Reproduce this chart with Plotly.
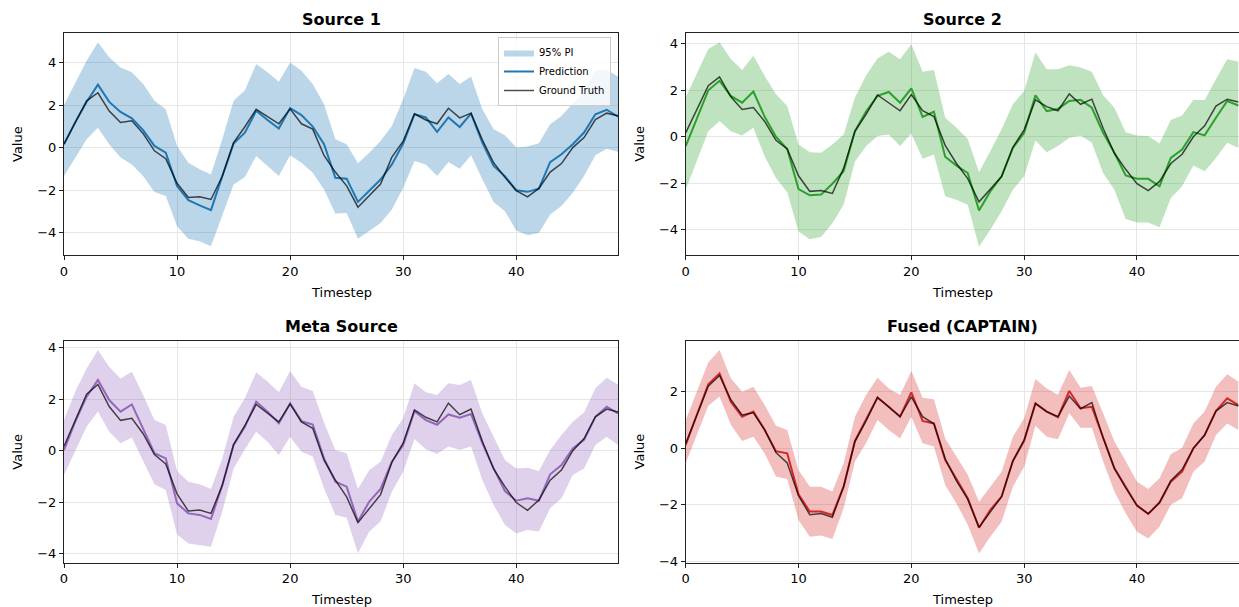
import plotly.graph_objects as go

timesteps = list(range(50))

truth = [0.17, 1.18, 2.2, 2.58, 1.72, 1.18, 1.26, 0.66, -0.15, -0.52,
         -1.68, -2.35, -2.31, -2.44, -1.35, 0.24, 0.98, 1.8, 1.47, 1.12,
         1.82, 1.12, 0.87, -0.37, -1.15, -1.8, -2.8, -2.24, -1.71, -0.45,
         0.3, 1.59, 1.3, 1.12, 1.85, 1.4, 1.62, 0.37, -0.71, -1.4,
         -2.02, -2.32, -1.92, -1.15, -0.75, 0.0, 0.47, 1.32, 1.62, 1.5]

# Source 1
s1_pred = [0.16, 1.2, 2.15, 2.96, 2.15, 1.68, 1.38, 0.82, 0.08, -0.24,
           -1.81, -2.47, -2.72, -2.94, -1.34, 0.19, 0.7, 1.73, 1.3, 0.9,
           1.86, 1.53, 0.99, 0.16, -1.42, -1.46, -2.55, -2.04, -1.5, -0.79,
           0.19, 1.57, 1.42, 0.74, 1.42, 0.97, 1.6, 0.24, -0.86, -1.34,
           -2.01, -2.08, -1.93, -0.68, -0.31, 0.16, 0.71, 1.57, 1.78, 1.46]
s1_upper = [2.0, 3.07, 4.09, 4.95, 4.25, 3.77, 3.54, 2.99, 2.2, 1.81,
            0.08, -0.71, -1.02, -1.26, 0.39, 2.2, 2.7, 3.93, 3.54, 3.1,
            4.0, 3.62, 2.99, 2.04, 0.39, 0.16, -0.74, -0.24, 0.31, 1.02,
            2.28, 3.74, 3.57, 3.03, 3.46, 2.99, 3.35, 1.81, 0.86, 0.58,
            0.0, 0.05, 0.2, 1.1, 1.49, 2.09, 2.59, 3.62, 3.66, 3.35]
s1_lower = [-1.34, -0.47, 0.39, 0.94, 0.16, -0.47, -0.79, -1.34, -2.09, -2.28,
            -3.7, -4.29, -4.4, -4.64, -3.22, -1.73, -1.38, -0.39, -0.86, -1.34,
            -0.36, -0.71, -1.18, -1.97, -3.1, -3.07, -4.29, -3.93, -3.54, -2.91,
            -1.89, -0.63, -0.79, -1.34, -0.68, -0.99, -0.36, -1.49, -2.56, -2.99,
            -3.9, -4.12, -4.01, -3.14, -2.75, -2.12, -1.34, -0.36, -0.05, -0.2]

# Source 2
s2_pred = [-0.4, 0.82, 2.0, 2.41, 1.76, 1.47, 1.95, 0.86, 0.0, -0.52,
           -2.25, -2.52, -2.49, -2.02, -1.48, 0.24, 1.1, 1.76, 1.93, 1.47,
           2.09, 0.86, 1.08, -0.86, -1.24, -1.56, -3.17, -2.35, -1.7, -0.48,
           0.17, 1.79, 1.11, 1.2, 1.54, 1.59, 1.25, 0.17, -0.69, -1.66,
           -1.81, -1.81, -2.13, -0.91, -0.55, 0.2, 0.06, 0.82, 1.54, 1.35]
s2_upper = [1.69, 2.77, 3.78, 4.07, 3.35, 2.88, 3.49, 2.62, 1.83, 1.33,
            -0.33, -0.66, -0.69, -0.33, 0.1, 1.69, 2.65, 3.37, 3.66, 3.34,
            3.99, 2.8, 2.88, 0.82, 0.39, -0.09, -1.53, -0.62, 0.32, 1.4,
            1.97, 3.63, 2.91, 2.91, 3.08, 2.98, 2.8, 1.79, 1.25, 0.2,
            0.06, 0.03, -0.29, 0.72, 0.92, 1.59, 1.59, 2.48, 3.34, 3.23]
s2_lower = [-2.28, -0.98, 0.24, 0.68, 0.24, 0.06, 0.39, -0.84, -1.77, -2.39,
            -4.08, -4.41, -4.32, -3.72, -2.93, -1.06, -0.4, 0.03, 0.1, -0.4,
            0.14, -0.95, -0.76, -2.56, -2.71, -2.93, -4.73, -4.0, -3.21, -2.28,
            -1.7, -0.16, -0.66, -0.4, -0.04, 0.06, -0.26, -1.56, -2.28, -3.54,
            -3.69, -3.69, -3.89, -2.64, -2.13, -1.24, -1.48, -0.91, -0.26, -0.48]

# Meta Source
m_pred = [0.03, 1.13, 2.1, 2.75, 1.97, 1.52, 1.8, 0.87, -0.1, -0.3,
          -2.05, -2.44, -2.5, -2.66, -1.34, 0.22, 0.93, 1.91, 1.52, 1.06,
          1.84, 1.15, 1.02, -0.3, -1.21, -1.4, -2.76, -1.98, -1.49, -0.43,
          0.22, 1.54, 1.19, 1.01, 1.41, 1.28, 1.43, 0.29, -0.69, -1.57,
          -1.95, -1.85, -1.95, -0.92, -0.56, 0.09, 0.42, 1.32, 1.71, 1.45]
m_upper = [1.19, 2.3, 3.2, 3.92, 3.27, 2.81, 3.07, 2.17, 1.19, 1.0,
           -0.79, -1.21, -1.31, -1.49, -0.3, 1.32, 2.05, 3.05, 2.69, 2.27,
           3.1, 2.49, 2.32, 1.1, 0.03, -0.1, -1.49, -0.75, -0.43, 0.61,
           1.26, 2.62, 2.27, 2.17, 2.62, 2.56, 2.75, 1.45, 0.54, -0.36,
           -0.69, -0.66, -0.79, 0.03, 0.61, 1.13, 1.49, 2.43, 2.84, 2.58]
m_lower = [-0.95, -0.04, 0.93, 1.52, 0.74, 0.29, 0.51, -0.4, -1.31, -1.53,
           -3.26, -3.61, -3.67, -3.74, -2.37, -0.69, 0.06, 0.74, 0.35, -0.17,
           0.54, -0.04, -0.23, -1.47, -2.5, -2.61, -3.99, -3.15, -2.76, -1.6,
           -0.82, 0.45, 0.06, -0.13, 0.16, 0.03, 0.16, -1.14, -2.11, -2.89,
           -3.22, -3.09, -3.15, -2.24, -1.85, -0.95, -0.69, 0.22, 0.54, 0.22]

# Fused (CAPTAIN)
f_pred = [0.12, 1.2, 2.27, 2.65, 1.65, 1.12, 1.3, 0.65, -0.1, -0.18,
          -1.63, -2.24, -2.24, -2.36, -1.36, 0.26, 1.02, 1.8, 1.47, 1.12,
          1.98, 0.97, 0.88, -0.41, -1.09, -1.77, -2.81, -2.18, -1.71, -0.45,
          0.26, 1.59, 1.3, 1.1, 2.03, 1.42, 1.47, 0.35, -0.71, -1.36,
          -2.03, -2.32, -1.92, -1.18, -0.83, 0.0, 0.47, 1.32, 1.77, 1.53]
f_upper = [1.0, 2.0, 3.04, 3.48, 2.48, 2.0, 2.18, 1.53, 0.8, 0.65,
           -0.77, -1.36, -1.36, -1.53, -0.53, 1.12, 1.9, 2.5, 2.12, 1.89,
           2.74, 1.79, 1.74, 0.35, -0.3, -0.94, -1.89, -1.36, -0.83, 0.41,
           1.06, 2.45, 2.12, 1.9, 2.77, 2.14, 2.21, 1.24, 0.24, -0.45,
           -1.18, -1.44, -1.06, -0.21, 0.02, 0.88, 1.3, 2.18, 2.62, 2.36]
f_lower = [-0.53, 0.47, 1.51, 1.83, 0.83, 0.26, 0.41, -0.18, -1.0, -1.09,
           -2.54, -3.13, -3.09, -3.21, -2.12, -0.47, 0.2, 1.0, 0.65, 0.35,
           1.12, 0.18, 0.06, -1.3, -1.95, -2.71, -3.72, -3.13, -2.6, -1.36,
           -0.65, 0.8, 0.41, 0.32, 1.24, 0.73, 0.73, -0.47, -1.53, -2.3,
           -2.95, -3.19, -2.77, -2.0, -1.77, -0.83, -0.47, 0.47, 0.88, 0.65]

panels = [
    dict(title="Source 1", pred=s1_pred, up=s1_upper, lo=s1_lower,
         color="#1f77b4", fill="rgba(31,119,180,0.3)", yr=[-5.05, 5.39]),
    dict(title="Source 2", pred=s2_pred, up=s2_upper, lo=s2_lower,
         color="#2ca02c", fill="rgba(44,160,44,0.3)", yr=[-5.09, 4.47]),
    dict(title="Meta Source", pred=m_pred, up=m_upper, lo=m_lower,
         color="#9467bd", fill="rgba(148,103,189,0.3)", yr=[-4.36, 4.28]),
    dict(title="Fused (CAPTAIN)", pred=f_pred, up=f_upper, lo=f_lower,
         color="#d62728", fill="rgba(214,39,40,0.3)", yr=[-4.05, 3.81]),
]

W, H = 1239, 607
# pixel boxes (left, right, top, bottom)
boxes = [(64, 618, 33, 255), (685.7, 1238.5, 33, 255),
         (64, 618, 340.7, 562.7), (685.7, 1238.5, 340.7, 562.7)]

FONT = "DejaVu Sans"
fig = go.Figure()
layout = dict(
    width=W, height=H, margin=dict(l=0, r=0, t=0, b=0, autoexpand=False),
    paper_bgcolor="white", plot_bgcolor="white",
    font=dict(family=FONT, size=13, color="black"),
    showlegend=True,
    legend=dict(x=611 / W, xanchor="right", y=1 - 37 / H, yanchor="top",
                bgcolor="rgba(255,255,255,0.8)", bordercolor="#cccccc",
                borderwidth=1, font=dict(size=10, family=FONT),
                tracegroupgap=0, traceorder="normal", itemwidth=30),
    annotations=[],
)

for i, p in enumerate(panels):
    n = "" if i == 0 else str(i + 1)
    xa, ya = "x" + n, "y" + n
    first = i == 0
    fig.add_trace(go.Scatter(x=timesteps, y=p["lo"], mode="lines",
                             line=dict(width=0), showlegend=False,
                             hoverinfo="skip", xaxis=xa, yaxis=ya))
    fig.add_trace(go.Scatter(x=timesteps, y=p["up"], mode="lines",
                             line=dict(width=0), fill="tonexty",
                             fillcolor=p["fill"], name="95% PI",
                             showlegend=first, xaxis=xa, yaxis=ya))
    fig.add_trace(go.Scatter(x=timesteps, y=p["pred"], mode="lines",
                             line=dict(color=p["color"], width=2),
                             name="Prediction", showlegend=first,
                             xaxis=xa, yaxis=ya))
    fig.add_trace(go.Scatter(x=timesteps, y=truth, mode="lines",
                             line=dict(color="rgba(0,0,0,0.7)", width=1.5),
                             name="Ground Truth", showlegend=first,
                             xaxis=xa, yaxis=ya))
    l, r, t, b = boxes[i]
    axcommon = dict(showline=True, linecolor="#222222", linewidth=1.1,
                    mirror=True, ticks="outside", ticklen=4, tickwidth=1,
                    tickcolor="#222222", showgrid=True, gridcolor="#e6e6e6",
                    gridwidth=1, zeroline=False,
                    tickfont=dict(size=13, family=FONT))
    layout["xaxis" + n] = dict(domain=[l / W, r / W], anchor=ya,
                               range=[0, 49], tickvals=[0, 10, 20, 30, 40],
                               **axcommon)
    layout["yaxis" + n] = dict(domain=[1 - b / H, 1 - t / H], anchor=xa,
                               range=p["yr"], tickvals=[-4, -2, 0, 2, 4],
                               **axcommon)
    cx = (l + r) / 2
    layout["annotations"].append(dict(
        text="<b>" + p["title"] + "</b>", x=cx / W, y=1 - (t - 14) / H,
        xref="paper", yref="paper", showarrow=False, xanchor="center",
        yanchor="middle", font=dict(size=16, family=FONT)))
    layout["annotations"].append(dict(
        text="Timestep", x=cx / W, y=1 - (b + 37) / H, xref="paper",
        yref="paper", showarrow=False, xanchor="center", yanchor="middle",
        font=dict(size=13, family=FONT)))
    layout["annotations"].append(dict(
        text="Value", x=(l - 46) / W, y=1 - ((t + b) / 2) / H, xref="paper",
        yref="paper", showarrow=False, xanchor="center", yanchor="middle",
        textangle=-90, font=dict(size=13, family=FONT)))

fig.update_layout(**layout)
fig.write_html("out.html", config={"displayModeBar": False},
               post_script="document.body.style.margin='0px';"
                           "document.body.style.overflow='hidden';")
